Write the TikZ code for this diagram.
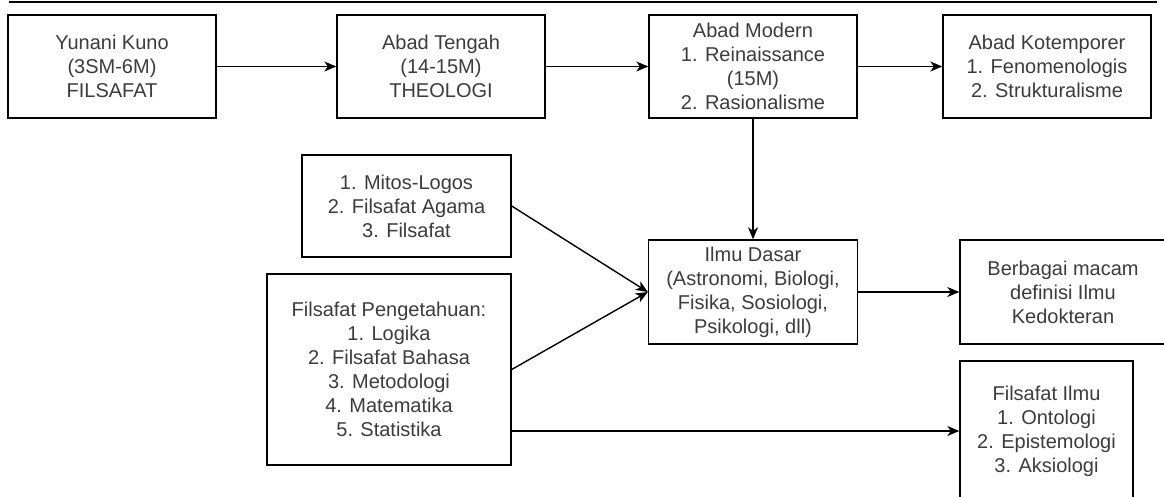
\documentclass[tikz,border=0pt]{standalone}
\usepackage{fontspec}
\setmainfont{Liberation Sans}
\usetikzlibrary{arrows.meta}
\definecolor{txt}{RGB}{60,60,60}
\begin{document}
\begin{tikzpicture}[x=1pt,y=-1pt,
  box/.style={draw=black, line width=1.4pt, align=center, inner sep=0pt, text=txt,
    font=\fontsize{20}{24}\selectfont, fill=white},
  conn/.style={line width=1.4pt, -{Stealth[length=12pt,width=10pt,inset=3.5pt]}}]
\clip (0,0) rectangle (1164,497);
\fill[white] (0,0) rectangle (1164,497);
\draw[line width=2pt] (9,2.5) -- (1157,2.5);
\node[box, minimum width=208, minimum height=103] (b1) at (112,66.5) {Yunani Kuno\\(3SM-6M)\\FILSAFAT};
\node[box, minimum width=208, minimum height=103] (b2) at (441,66.5) {Abad Tengah\\(14-15M)\\THEOLOGI};
\node[box, minimum width=208, minimum height=103] (b3) at (753,66.5) {Abad Modern\\1. Reinaissance\\(15M)\\2. Rasionalisme};
\node[box, minimum width=208, minimum height=103] (b4) at (1047,66.5) {Abad Kotemporer\\1. Fenomenologis\\2. Strukturalisme};
\node[box, minimum width=209, minimum height=102] (mitos) at (406.5,206) {1. Mitos-Logos\\2. Filsafat Agama\\3. Filsafat};
\node[box, minimum width=244, minimum height=191] (fp) at (389,369.5) {Filsafat Pengetahuan:\\1. Logika\\2. Filsafat Bahasa\\3. Metodologi\\4. Matematika\\5. Statistika};
\node[box, minimum width=209, minimum height=104] (id) at (753,292) {Ilmu Dasar\\(Astronomi, Biologi,\\Fisika, Sosiologi,\\Psikologi, dll)};
\node[box, minimum width=206, minimum height=104] (berb) at (1063,292) {Berbagai macam\\definisi Ilmu\\Kedokteran};
\node[box, minimum width=173, minimum height=140] (fi) at (1046.5,431) {Filsafat Ilmu\\1. Ontologi\\2. Epistemologi\\3. Aksiologi};
\draw[conn] (b1) -- (b2);
\draw[conn] (b2) -- (b3);
\draw[conn] (b3) -- (b4);
\draw[conn] (b3) -- (id);
\draw[conn] (mitos.east) -- (id.west);
\draw[conn] (fp.east) -- (id.west);
\draw[conn] (id) -- (berb);
\draw[conn] (fp.east |- fi.west) -- (fi.west);
\end{tikzpicture}
\end{document}
